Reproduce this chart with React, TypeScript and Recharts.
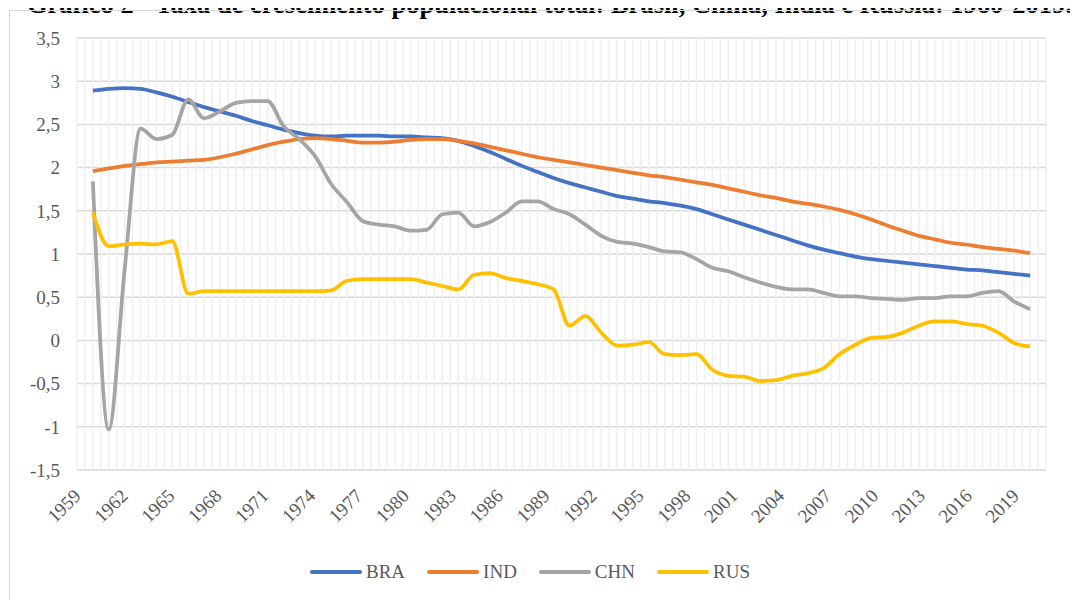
import { LineChart, Line, XAxis, YAxis, CartesianGrid, ReferenceLine } from "recharts";

const years = [
  1960, 1961, 1962, 1963, 1964, 1965, 1966, 1967, 1968, 1969,
  1970, 1971, 1972, 1973, 1974, 1975, 1976, 1977, 1978, 1979,
  1980, 1981, 1982, 1983, 1984, 1985, 1986, 1987, 1988, 1989,
  1990, 1991, 1992, 1993, 1994, 1995, 1996, 1997, 1998, 1999,
  2000, 2001, 2002, 2003, 2004, 2005, 2006, 2007, 2008, 2009,
  2010, 2011, 2012, 2013, 2014, 2015, 2016, 2017, 2018, 2019,
];

const bra = [
  2.89, 2.91, 2.92, 2.91, 2.87, 2.82, 2.76, 2.7, 2.65, 2.6,
  2.54, 2.49, 2.44, 2.4, 2.37, 2.36, 2.37, 2.37, 2.37, 2.36,
  2.36, 2.35, 2.34, 2.31, 2.25, 2.18, 2.1, 2.02, 1.95, 1.88,
  1.82, 1.77, 1.72, 1.67, 1.64, 1.61, 1.59, 1.56, 1.52, 1.46,
  1.4, 1.34, 1.28, 1.22, 1.16, 1.1, 1.05, 1.01, 0.97, 0.94,
  0.92, 0.9, 0.88, 0.86, 0.84, 0.82, 0.81, 0.79, 0.77, 0.75,
];

const ind = [
  1.96, 1.99, 2.02, 2.04, 2.06, 2.07, 2.08, 2.09, 2.12, 2.16,
  2.21, 2.26, 2.3, 2.33, 2.34, 2.33, 2.31, 2.29, 2.29, 2.3,
  2.32, 2.33, 2.33, 2.31, 2.28, 2.24, 2.2, 2.16, 2.12, 2.09,
  2.06, 2.03, 2.0, 1.97, 1.94, 1.91, 1.89, 1.86, 1.83, 1.8,
  1.76, 1.72, 1.68, 1.65, 1.61, 1.58, 1.55, 1.51, 1.46, 1.4,
  1.33, 1.27, 1.21, 1.17, 1.13, 1.11, 1.08, 1.06, 1.04, 1.01,
];

const chn = [
  1.84, -1.03, 0.82, 2.45, 2.33, 2.38, 2.79, 2.57, 2.65, 2.75,
  2.77, 2.77, 2.48, 2.33, 2.13, 1.81, 1.6, 1.38, 1.34, 1.32,
  1.27, 1.28, 1.46, 1.48, 1.32, 1.37, 1.48, 1.61, 1.61, 1.52,
  1.46, 1.34, 1.21, 1.14, 1.12, 1.08, 1.03, 1.02, 0.94, 0.84,
  0.8, 0.73, 0.67, 0.62, 0.59, 0.59, 0.55, 0.51, 0.51, 0.49,
  0.48, 0.47, 0.49, 0.49, 0.51, 0.51, 0.55, 0.57, 0.45, 0.36,
];

const rus = [
  1.48, 1.09, 1.11, 1.12, 1.11, 1.15, 0.54, 0.57, 0.57, 0.57,
  0.57, 0.57, 0.57, 0.57, 0.57, 0.58, 0.69, 0.71, 0.71, 0.71,
  0.71, 0.67, 0.63, 0.59, 0.76, 0.78, 0.72, 0.69, 0.65, 0.59,
  0.17, 0.28, 0.09, -0.06, -0.05, -0.02, -0.16, -0.17, -0.16, -0.34,
  -0.41, -0.42, -0.47, -0.46, -0.41, -0.38, -0.32, -0.16, -0.05, 0.03,
  0.04, 0.09, 0.17, 0.22, 0.22, 0.19, 0.17, 0.09, -0.03, -0.07,
];

const yTicks = [-1.5, -1, -0.5, 0, 0.5, 1, 1.5, 2, 2.5, 3, 3.5];
const xTicks = [
  1959, 1962, 1965, 1968, 1971, 1974, 1977, 1980, 1983, 1986, 1989,
  1992, 1995, 1998, 2001, 2004, 2007, 2010, 2013, 2016, 2019,
];

const series = [
  { key: "BRA", color: "#4472C4" },
  { key: "IND", color: "#ED7D31" },
  { key: "CHN", color: "#A5A5A5" },
  { key: "RUS", color: "#FFC000" },
];

const data = years.map((year, i) => ({
  year,
  BRA: bra[i],
  IND: ind[i],
  CHN: chn[i],
  RUS: rus[i],
}));

// minor vertical gridlines, every half year across the axis
const gridX: number[] = [];
for (let v = 1959; v <= 2020; v += 0.5) gridX.push(v);

const FONT = "'Liberation Serif', 'Times New Roman', serif";
const TEXT = "#595959";

// labels drift slightly left of their ticks towards the right end, as in the original
const XTick = (props: any) => {
  const { x, y, payload } = props;
  const shift = 5 - (payload.value - 1959) * 0.25;
  return (
    <g transform={`translate(${x + shift},${y + 19})`}>
      <text transform="rotate(-45)" textAnchor="end" fill={TEXT} fontSize={19} fontFamily={FONT}>
        {payload.value}
      </text>
    </g>
  );
};

export default function App() {
  return (
    <div style={{ position: "relative", width: 1078, height: 600, margin: "-8px 0 0 -8px", overflow: "hidden", background: "#fff" }}>
      <div
        style={{
          position: "absolute",
          left: 27,
          top: -9.5,
          whiteSpace: "nowrap",
          fontFamily: FONT,
          fontWeight: "bold",
          fontSize: 26.5,
          lineHeight: "26px",
          color: "#000",
        }}
      >
        Gráfico 2 - Taxa de crescimento populacional total: Brasil, China, Índia e Rússia: 1960-2019.
      </div>
      <div style={{ position: "absolute", left: 9, top: 10, width: 1200, height: 700, border: "1.5px solid #d9d9d9" }} />
      <div style={{ position: "absolute", left: 0, top: 0 }}>
        <LineChart width={1078} height={600} data={data} margin={{ top: 38, right: 32, left: 0, bottom: 70 }}>
          {gridX.map((v) => (
            <ReferenceLine key={v} x={v} stroke="#efefef" strokeWidth={1.5} />
          ))}
          <CartesianGrid vertical={false} stroke="#d9d9d9" strokeWidth={1.5} />
          <XAxis
            dataKey="year"
            type="number"
            domain={[1959, 2020]}
            ticks={xTicks}
            interval={0}
            axisLine={false}
            tickLine={false}
            height={60}
            tick={<XTick />}
          />
          <YAxis
            type="number"
            domain={[-1.5, 3.5]}
            ticks={yTicks}
            interval={0}
            width={77}
            axisLine={false}
            tickLine={false}
            tickMargin={11}
            tick={{ fill: TEXT, fontSize: 19, fontFamily: FONT }}
            tickFormatter={(v: number) => String(v).replace(".", ",")}
          />
          {series.map((s) => (
            <Line
              key={s.key}
              type="monotone"
              dataKey={s.key}
              stroke={s.color}
              strokeWidth={3.75}
              dot={false}
              activeDot={false}
              isAnimationActive={false}
            />
          ))}
        </LineChart>
      </div>
      <div
        style={{
          position: "absolute",
          left: 310,
          top: 560,
          display: "flex",
          alignItems: "center",
          fontFamily: FONT,
          fontSize: 19,
          color: TEXT,
        }}
      >
        {series.map((s) => (
          <div key={s.key} style={{ display: "flex", alignItems: "center", marginRight: 22 }}>
            <span style={{ display: "inline-block", width: 52, height: 4, borderRadius: 2, background: s.color, marginRight: 4 }} />
            <span style={{ lineHeight: "24px" }}>{s.key}</span>
          </div>
        ))}
      </div>
    </div>
  );
}
